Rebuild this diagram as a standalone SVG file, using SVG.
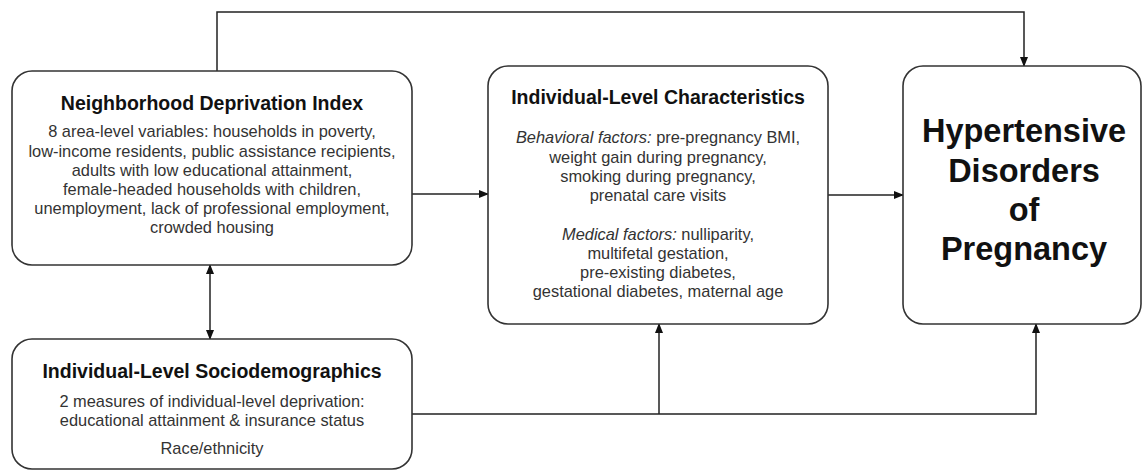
<svg xmlns="http://www.w3.org/2000/svg" width="1143" height="471" viewBox="0 0 1143 471">
<defs>
<style>
.box{fill:#fff;stroke:#333;stroke-width:1.6}
.con{fill:none;stroke:#222;stroke-width:1.5}
.t{font-family:"Liberation Sans",Arial,sans-serif;text-anchor:middle;fill:#111;font-weight:bold;font-size:19.5px}
.b{font-family:"Liberation Sans",Arial,sans-serif;text-anchor:middle;fill:#333;font-size:16.4px}
.big{font-family:"Liberation Sans",Arial,sans-serif;text-anchor:middle;fill:#111;font-weight:bold;font-size:32.5px}
</style>
<marker id="arr" markerWidth="10" markerHeight="8" refX="9" refY="4" orient="auto" markerUnits="userSpaceOnUse">
<path d="M0,0 L10,4 L0,8 Z" fill="#111"/>
</marker>
<marker id="arrs" markerWidth="10" markerHeight="8" refX="1" refY="4" orient="auto" markerUnits="userSpaceOnUse">
<path d="M10,0 L0,4 L10,8 Z" fill="#111"/>
</marker>
</defs>
<g id="connectors">
<path class="con" d="M217,71 V12 H1024 V66" marker-end="url(#arr)"/>
<path class="con" d="M412,194 H488" marker-end="url(#arr)"/>
<path class="con" d="M828,195 H903" marker-end="url(#arr)"/>
<path class="con" d="M210,265 V339" marker-start="url(#arrs)" marker-end="url(#arr)"/>
<path class="con" d="M412,414 H1036 V324" marker-end="url(#arr)"/>
<path class="con" d="M659,414 V324" marker-end="url(#arr)"/>
</g>
<g id="ndi">
<rect class="box" x="12" y="71" width="400" height="194" rx="20"/>
<text class="t" x="212" y="110">Neighborhood Deprivation Index</text>
<text class="b" x="212" y="137">8 area-level variables: households in poverty,</text>
<text class="b" x="212" y="157">low-income residents, public assistance recipients,</text>
<text class="b" x="212" y="176">adults with low educational attainment,</text>
<text class="b" x="212" y="195">female-headed households with children,</text>
<text class="b" x="212" y="214">unemployment, lack of professional employment,</text>
<text class="b" x="212" y="233">crowded housing</text>
</g>
<g id="ilc">
<rect class="box" x="488" y="66" width="340" height="258" rx="20"/>
<text class="t" x="658" y="104">Individual-Level Characteristics</text>
<text class="b" x="658" y="143"><tspan font-style="italic">Behavioral factors:</tspan> pre-pregnancy BMI,</text>
<text class="b" x="658" y="163">weight gain during pregnancy,</text>
<text class="b" x="658" y="182">smoking during pregnancy,</text>
<text class="b" x="658" y="201">prenatal care visits</text>
<text class="b" x="658" y="240"><tspan font-style="italic">Medical factors:</tspan> nulliparity,</text>
<text class="b" x="658" y="259">multifetal gestation,</text>
<text class="b" x="658" y="278">pre-existing diabetes,</text>
<text class="b" x="658" y="297">gestational diabetes, maternal age</text>
</g>
<g id="hdp">
<rect class="box" x="903" y="66" width="238" height="258" rx="20"/>
<text class="big" x="1024" y="142">Hypertensive</text>
<text class="big" x="1024" y="182">Disorders</text>
<text class="big" x="1024" y="221">of</text>
<text class="big" x="1024" y="260">Pregnancy</text>
</g>
<g id="ils">
<rect class="box" x="12" y="339" width="400" height="130" rx="20"/>
<text class="t" x="212" y="378">Individual-Level Sociodemographics</text>
<text class="b" x="212" y="407">2 measures of individual-level deprivation:</text>
<text class="b" x="212" y="426">educational attainment &amp; insurance status</text>
<text class="b" x="212" y="454">Race/ethnicity</text>
</g>
</svg>
